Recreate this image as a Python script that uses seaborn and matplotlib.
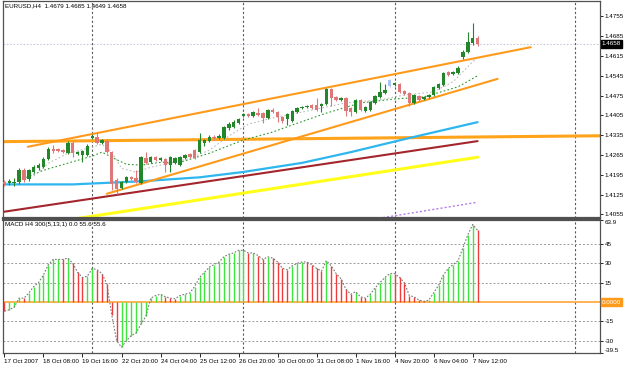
import numpy as np
import matplotlib
matplotlib.use("Agg")
import matplotlib.pyplot as plt
import seaborn as sns

# --- EURUSD H4 candles (bar 0 = 17 Oct 2007 00:00) ---
bar_open = [1.4168, 1.4165, 1.4165, 1.4168, 1.4211, 1.4179, 1.4204, 1.4218, 1.4222, 1.4250,
            1.4285, 1.4285, 1.4282, 1.4271, 1.4307, 1.4268, 1.4264, 1.4264, 1.4325, 1.4328,
            1.4307, 1.4314, 1.4275, 1.4175, 1.4147, 1.4168, 1.4186, 1.4182, 1.4165, 1.4253,
            1.4239, 1.4257, 1.4246, 1.4250, 1.4229, 1.4236, 1.4229, 1.4253, 1.4268, 1.4282,
            1.4275, 1.4307, 1.4314, 1.4328, 1.4325, 1.4325, 1.4360, 1.4364, 1.4378, 1.4403,
            1.4410, 1.4403, 1.4413, 1.4413, 1.4396, 1.4424, 1.4417, 1.4399, 1.4392, 1.4385,
            1.4417, 1.4431, 1.4435, 1.4442, 1.4442, 1.4438, 1.4445, 1.4499, 1.4470, 1.4460,
            1.4467, 1.4431, 1.4417, 1.4460, 1.4421, 1.4424, 1.4449, 1.4470, 1.4485, 1.4509,
            1.4513, 1.4517, 1.4492, 1.4485, 1.4449, 1.4474, 1.4463, 1.4470, 1.4477, 1.4502,
            1.4513, 1.4559, 1.4552, 1.4556, 1.4612, 1.4630, 1.4662, 1.4679]
bar_high = [1.4175, 1.4179, 1.4182, 1.4218, 1.4218, 1.4214, 1.4229, 1.4236, 1.4257, 1.4293,
            1.4300, 1.4289, 1.4285, 1.4314, 1.4314, 1.4278, 1.4282, 1.4303, 1.4339, 1.4342,
            1.4321, 1.4321, 1.4278, 1.4182, 1.4172, 1.4190, 1.4190, 1.4211, 1.4261, 1.4275,
            1.4261, 1.4261, 1.4257, 1.4253, 1.4261, 1.4257, 1.4261, 1.4268, 1.4271, 1.4285,
            1.4342, 1.4321, 1.4335, 1.4335, 1.4339, 1.4367, 1.4381, 1.4389, 1.4396, 1.4413,
            1.4413, 1.4421, 1.4431, 1.4417, 1.4428, 1.4431, 1.4421, 1.4403, 1.4413, 1.4424,
            1.4435, 1.4438, 1.4442, 1.4445, 1.4467, 1.4449, 1.4502, 1.4502, 1.4474, 1.4470,
            1.4470, 1.4435, 1.4463, 1.4463, 1.4438, 1.4456, 1.4477, 1.4524, 1.4517, 1.4534,
            1.4524, 1.4520, 1.4495, 1.4488, 1.4481, 1.4477, 1.4474, 1.4481, 1.4509, 1.4520,
            1.4559, 1.4563, 1.4563, 1.4580, 1.4637, 1.4701, 1.4730, 1.4685]
bar_low = [1.4154, 1.4158, 1.4154, 1.4161, 1.4168, 1.4172, 1.4200, 1.4211, 1.4218, 1.4246,
           1.4271, 1.4275, 1.4271, 1.4268, 1.4257, 1.4264, 1.4239, 1.4261, 1.4321, 1.4303,
           1.4303, 1.4271, 1.4140, 1.4126, 1.4143, 1.4165, 1.4175, 1.4165, 1.4161, 1.4232,
           1.4236, 1.4243, 1.4243, 1.4204, 1.4204, 1.4232, 1.4225, 1.4250, 1.4253, 1.4250,
           1.4271, 1.4296, 1.4310, 1.4318, 1.4321, 1.4321, 1.4353, 1.4360, 1.4374, 1.4399,
           1.4399, 1.4399, 1.4403, 1.4378, 1.4392, 1.4413, 1.4381, 1.4378, 1.4371, 1.4381,
           1.4413, 1.4428, 1.4431, 1.4428, 1.4421, 1.4417, 1.4442, 1.4438, 1.4456, 1.4456,
           1.4403, 1.4403, 1.4413, 1.4421, 1.4417, 1.4421, 1.4445, 1.4467, 1.4481, 1.4506,
           1.4509, 1.4485, 1.4477, 1.4438, 1.4445, 1.4456, 1.4460, 1.4467, 1.4474, 1.4499,
           1.4509, 1.4545, 1.4548, 1.4552, 1.4605, 1.4627, 1.4655, 1.4649]
bar_close = [1.4161, 1.4172, 1.4168, 1.4211, 1.4175, 1.4211, 1.4222, 1.4229, 1.4250, 1.4285,
             1.4278, 1.4278, 1.4275, 1.4307, 1.4271, 1.4275, 1.4278, 1.4296, 1.4332, 1.4307,
             1.4318, 1.4275, 1.4161, 1.4143, 1.4168, 1.4186, 1.4179, 1.4168, 1.4257, 1.4236,
             1.4257, 1.4246, 1.4253, 1.4229, 1.4257, 1.4253, 1.4257, 1.4264, 1.4257, 1.4253,
             1.4318, 1.4318, 1.4328, 1.4325, 1.4332, 1.4364, 1.4374, 1.4381, 1.4392, 1.4410,
             1.4403, 1.4417, 1.4406, 1.4396, 1.4424, 1.4417, 1.4399, 1.4385, 1.4410, 1.4421,
             1.4431, 1.4435, 1.4438, 1.4431, 1.4424, 1.4445, 1.4499, 1.4467, 1.4460, 1.4467,
             1.4421, 1.4417, 1.4460, 1.4424, 1.4435, 1.4453, 1.4474, 1.4488, 1.4495, 1.4531,
             1.4520, 1.4488, 1.4481, 1.4449, 1.4477, 1.4460, 1.4470, 1.4477, 1.4506, 1.4517,
             1.4556, 1.4548, 1.4559, 1.4573, 1.4630, 1.4666, 1.4680, 1.4658]
marked_bar = 79  # the light blue bar

# moving averages (sampled knots) and trend lines
fast_ma_x = [6, 9, 13, 18, 20, 22, 24, 27, 30, 34, 38, 42, 46, 50, 55, 60, 65, 70, 77, 82, 88, 92, 97]
fast_ma_y = [1.4190, 1.4236, 1.4271, 1.4293, 1.4303, 1.4275, 1.4218, 1.4204, 1.4222, 1.4236, 1.4253,
             1.4282, 1.4332, 1.4374, 1.4396, 1.4413, 1.4431, 1.4449, 1.4460, 1.4477, 1.4488, 1.4524, 1.4612]
slow_ma_x = [3, 8, 13, 18, 20, 22, 25, 28, 32, 36, 42, 49, 55, 59, 66, 73, 80, 86, 93, 97]
slow_ma_y = [1.4175, 1.4211, 1.4236, 1.4261, 1.4275, 1.4257, 1.4232, 1.4229, 1.4239, 1.4239,
             1.4271, 1.4318, 1.4346, 1.4371, 1.4413, 1.4449, 1.4463, 1.4470, 1.4506, 1.4545]
blue_ma_x = [-1, 14, 28, 40, 49, 61, 71, 83, 90, 97]
blue_ma_y = [1.4161, 1.4161, 1.4172, 1.4186, 1.4205, 1.4237, 1.4275, 1.4325, 1.4353, 1.4381]
brown_ma_x = [-1, 97]
brown_ma_y = [1.4062, 1.4314]
yellow_ma_x = [0, 97]
yellow_ma_y = [1.4001, 1.4257]
purple_ma_x = [70, 97]
purple_ma_y = [1.4022, 1.4098]
chan_up_x, chan_up_y = [4.8, 107.9], [1.4294, 1.4646]
chan_lo_x, chan_lo_y = [21.0, 101.1], [1.4128, 1.4534]
level_x, level_y = [-1, 123], [1.4312, 1.4333]
bid = 1.4658

# MACD(5,13,1) histogram
macd = [-7, -6, -4, 3, 3, 7, 12, 15, 21, 29,
        33, 33, 33, 34, 30, 23, 19, 20, 26, 25,
        22, 14, -10, -30, -35, -30, -26, -24, -17, -11,
        3, 5, 6, 4, 3, 2.5, 5, 6, 7, 12,
        19, 23, 27, 29, 31, 35, 37, 38, 40, 40,
        38, 38, 36, 33, 35, 34, 31, 26, 25, 28,
        30, 31, 31, 29, 26, 24, 32, 28, 22, 18,
        10, 6, 8, 4, 3, 6, 11, 15, 19, 22,
        22, 19, 15, 5, 4, 1.5, 0.5, 1.5, 7, 13,
        21, 26, 29, 32, 42, 52, 60, 55.6]
macd_dir = ("rgggrggggg" "ggrgrrrggr" "rrrrgggggg" "gggrrrgggg" "gggggggggg"
            "rgrrgrrrrg" "ggrrrrgrrr" "rrgrrggggg" "rrrrrrrggg" "gggggggr")
macd_levels = [45, 30, 15, -15, -30]

price_ticks = [1.4755, 1.4685, 1.4615, 1.4545, 1.4475, 1.4405, 1.4335, 1.4265, 1.4195, 1.4125, 1.4055]
macd_ticks = [63.9, 45, 30, 15, -15, -30, -39.5]
date_labels = ["17 Oct 2007", "18 Oct 08:00", "19 Oct 16:00", "22 Oct 20:00", "24 Oct 04:00",
               "25 Oct 12:00", "26 Oct 20:00", "30 Oct 00:00", "31 Oct 08:00", "1 Nov 16:00",
               "4 Nov 20:00", "6 Nov 04:00", "7 Nov 12:00"]
grid_bars = [18, 49, 80, 117]

sns.set_theme(style="white")
plt.rcParams['font.family'] = ['Liberation Sans', 'DejaVu Sans']
FS = 4.5
EDGE = '#505050'

W, H = 625, 367
def box(x0, y0, x1, y1):
    return [x0 / W, 1 - y1 / H, (x1 - x0) / W, (y1 - y0) / H]

fig = plt.figure(figsize=(6.25, 3.67), dpi=100)
ax = fig.add_axes(box(2.5, 0.5, 600, 217.5))
axm = fig.add_axes(box(2.5, 219.5, 600, 353))

o = np.array(bar_open); h = np.array(bar_high)
l = np.array(bar_low); c = np.array(bar_close)
x = np.arange(len(o))
cols = np.where(c >= o, '#23872a', '#de7878').astype(object)
cols[marked_bar] = '#a9c6f2'

# indicator lines behind the candles
ax.plot(level_x, level_y, color='#ffa31a', lw=2.2, zorder=1)
sns.lineplot(x=blue_ma_x, y=blue_ma_y, ax=ax, color='#2fb6ee', lw=1.6, zorder=2)
sns.lineplot(x=brown_ma_x, y=brown_ma_y, ax=ax, color='#a3262c', lw=1.5, zorder=2)
sns.lineplot(x=yellow_ma_x, y=yellow_ma_y, ax=ax, color='#ffff1a', lw=2.2, zorder=2)
sns.lineplot(x=purple_ma_x, y=purple_ma_y, ax=ax, color='#b27ee8', lw=1, linestyle=(0, (1.5, 1.5)), zorder=2)
sns.lineplot(x=slow_ma_x, y=slow_ma_y, ax=ax, color='#2e9a2e', lw=0.8, linestyle=(0, (1.5, 2)), zorder=2)
sns.lineplot(x=fast_ma_x, y=fast_ma_y, ax=ax, color='#bdbdbd', lw=0.8, linestyle=(0, (1.5, 2)), zorder=2)
ax.plot(chan_up_x, chan_up_y, color='#ff9a1a', lw=1.5, zorder=3)
ax.plot(chan_lo_x, chan_lo_y, color='#ff9a1a', lw=1.5, zorder=3)

# candles
ax.vlines(x, l, h, colors=list(cols), lw=0.8, zorder=4)
ax.bar(x, np.maximum(np.abs(c - o), 0.0003), bottom=np.minimum(o, c), width=0.7,
       color=list(cols), lw=0, zorder=5)

ax.axhline(bid, color='#c9c9dc', lw=0.8, ls=(0, (1.5, 1.5)), zorder=1)
for g in grid_bars:
    ax.axvline(g, color='#5a5a5a', lw=0.8, ls=(0, (2, 2)), zorder=0)
    axm.axvline(g, color='#5a5a5a', lw=0.8, ls=(0, (2, 2)), zorder=0)

ax.set_xlim(-0.4, 122.1)
ax.set_ylim(1.4044, 1.4811)
ax.set_xticks([])
ax.yaxis.tick_right()
ax.set_yticks(price_ticks)
ax.set_yticklabels([f"{p:.4f}" for p in price_ticks])
ax.tick_params(axis='y', right=True, direction='out', length=2, width=0.6, pad=1.5,
               labelsize=FS, colors='black')
ax.set_xlabel(''); ax.set_ylabel('')
ax.text(1.003, bid, f"{bid:.4f}", transform=ax.get_yaxis_transform(), ha='left', va='center',
        fontsize=FS, color='white', bbox=dict(boxstyle='square,pad=0.2', fc='black', ec='black'))
ax.text(0.004, 0.975, "EURUSD,H4  1.4679 1.4685 1.4649 1.4658", transform=ax.transAxes,
        ha='left', va='center', fontsize=FS, color='black')

# MACD panel
mcol = ['#3ee63e' if d == 'g' else '#f03c3c' for d in macd_dir]
axm.vlines(x, 0, macd, colors=mcol, lw=1.0, zorder=3)
axm.plot(x, macd, color='#7a7a7a', lw=0.8, ls=(0, (1.5, 1.5)), zorder=4)
axm.axhline(0, color='#ffa53a', lw=1.2, zorder=2)
for lv in macd_levels:
    axm.axhline(lv, color='#9a9a9a', lw=0.7, ls=(0, (2, 2)), zorder=1)
axm.set_xlim(-0.4, 122.1)
axm.set_ylim(-39.5, 63.9)
axm.yaxis.tick_right()
axm.set_yticks(macd_ticks)
axm.set_yticklabels([str(t) for t in macd_ticks])
axm.tick_params(axis='y', right=True, direction='out', length=2, width=0.6, pad=1.5,
                labelsize=FS, colors='black')
ylabs = axm.get_yticklabels()
ylabs[0].set_va('top')
ylabs[-1].set_va('bottom')
axm.set_xticks(list(range(0, 8 * len(date_labels), 8)))
axm.set_xticklabels(date_labels, ha='left')
axm.tick_params(axis='x', bottom=True, direction='out', length=3, width=0.6, pad=1.5,
                labelsize=FS, colors='black')
axm.text(1.003, 0, "0.0000", transform=axm.get_yaxis_transform(), ha='left', va='center',
         fontsize=FS, color='white', bbox=dict(boxstyle='square,pad=0.2', fc='#ff9a1a', ec='#ff9a1a'))
axm.text(0.004, 0.965, "MACD H4 300(5,13,1) 0.0 55.6 55.6", transform=axm.transAxes,
         ha='left', va='center', fontsize=FS, color='black')

for a in (ax, axm):
    for s in a.spines.values():
        s.set_color(EDGE)
        s.set_linewidth(0.9)
ax.spines['bottom'].set_linewidth(1.6)
axm.spines['top'].set_linewidth(1.6)

fig.savefig("out.png", dpi=100, facecolor='white')
